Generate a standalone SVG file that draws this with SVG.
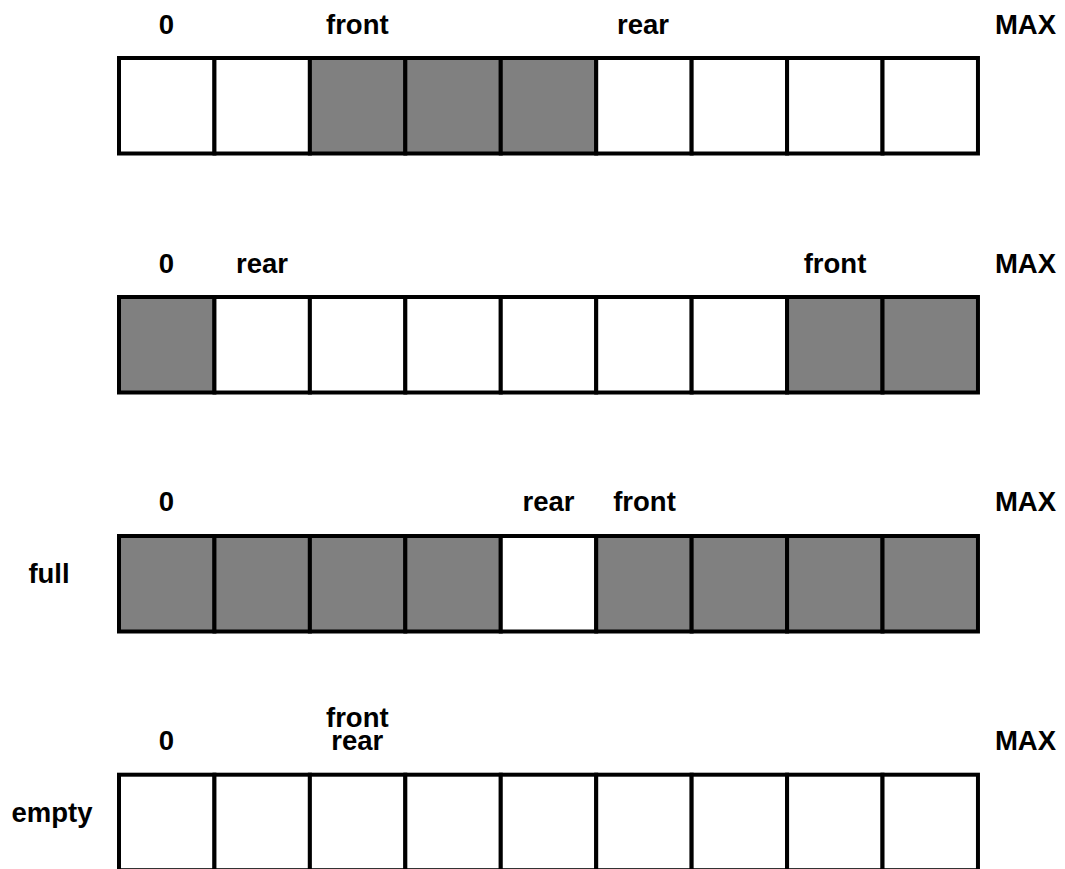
<svg xmlns="http://www.w3.org/2000/svg" width="1065" height="869" viewBox="0 0 1065 869">
<style>
.c{fill:#fff;stroke:#000;stroke-width:4}
.g{fill:#808080;stroke:#000;stroke-width:4}
text{font-family:"Liberation Sans",Arial,sans-serif;font-weight:bold;font-size:27.5px;fill:#000}
.m{text-anchor:middle}
</style>
<rect width="1065" height="869" fill="#fff"/>
<g id="row1">
<rect class="c" x="119" y="58" width="95.44" height="95.5"/>
<rect class="c" x="214.44" y="58" width="95.44" height="95.5"/>
<rect class="g" x="309.88" y="58" width="95.44" height="95.5"/>
<rect class="g" x="405.32" y="58" width="95.44" height="95.5"/>
<rect class="g" x="500.76" y="58" width="95.44" height="95.5"/>
<rect class="c" x="596.2" y="58" width="95.44" height="95.5"/>
<rect class="c" x="691.64" y="58" width="95.44" height="95.5"/>
<rect class="c" x="787.08" y="58" width="95.44" height="95.5"/>
<rect class="c" x="882.52" y="58" width="95.44" height="95.5"/>
<text class="m" x="166.5" y="34">0</text>
<text class="m" x="357.3" y="34">front</text>
<text class="m" x="643" y="34">rear</text>
<text class="m" x="1025.5" y="34">MAX</text>
</g>
<g id="row2">
<rect class="g" x="119" y="297" width="95.44" height="95.5"/>
<rect class="c" x="214.44" y="297" width="95.44" height="95.5"/>
<rect class="c" x="309.88" y="297" width="95.44" height="95.5"/>
<rect class="c" x="405.32" y="297" width="95.44" height="95.5"/>
<rect class="c" x="500.76" y="297" width="95.44" height="95.5"/>
<rect class="c" x="596.2" y="297" width="95.44" height="95.5"/>
<rect class="c" x="691.64" y="297" width="95.44" height="95.5"/>
<rect class="g" x="787.08" y="297" width="95.44" height="95.5"/>
<rect class="g" x="882.52" y="297" width="95.44" height="95.5"/>
<text class="m" x="166.5" y="272.5">0</text>
<text class="m" x="262" y="272.5">rear</text>
<text class="m" x="835" y="272.5">front</text>
<text class="m" x="1025.5" y="272.5">MAX</text>
</g>
<g id="row3">
<rect class="g" x="119" y="536" width="95.44" height="95.5"/>
<rect class="g" x="214.44" y="536" width="95.44" height="95.5"/>
<rect class="g" x="309.88" y="536" width="95.44" height="95.5"/>
<rect class="g" x="405.32" y="536" width="95.44" height="95.5"/>
<rect class="c" x="500.76" y="536" width="95.44" height="95.5"/>
<rect class="g" x="596.2" y="536" width="95.44" height="95.5"/>
<rect class="g" x="691.64" y="536" width="95.44" height="95.5"/>
<rect class="g" x="787.08" y="536" width="95.44" height="95.5"/>
<rect class="g" x="882.52" y="536" width="95.44" height="95.5"/>
<text class="m" x="166.5" y="511">0</text>
<text class="m" x="548.5" y="511">rear</text>
<text class="m" x="644.5" y="511">front</text>
<text class="m" x="1025.5" y="511">MAX</text>
<text class="m" x="49" y="583">full</text>
</g>
<g id="row4">
<rect class="c" x="119" y="774.7" width="95.44" height="95.5"/>
<rect class="c" x="214.44" y="774.7" width="95.44" height="95.5"/>
<rect class="c" x="309.88" y="774.7" width="95.44" height="95.5"/>
<rect class="c" x="405.32" y="774.7" width="95.44" height="95.5"/>
<rect class="c" x="500.76" y="774.7" width="95.44" height="95.5"/>
<rect class="c" x="596.2" y="774.7" width="95.44" height="95.5"/>
<rect class="c" x="691.64" y="774.7" width="95.44" height="95.5"/>
<rect class="c" x="787.08" y="774.7" width="95.44" height="95.5"/>
<rect class="c" x="882.52" y="774.7" width="95.44" height="95.5"/>
<text class="m" x="166.5" y="750">0</text>
<text class="m" x="357.3" y="727">front</text>
<text class="m" x="357.3" y="750">rear</text>
<text class="m" x="1025.5" y="750">MAX</text>
<text class="m" x="52" y="822">empty</text>
</g>
<g id="connectors"/>
</svg>
